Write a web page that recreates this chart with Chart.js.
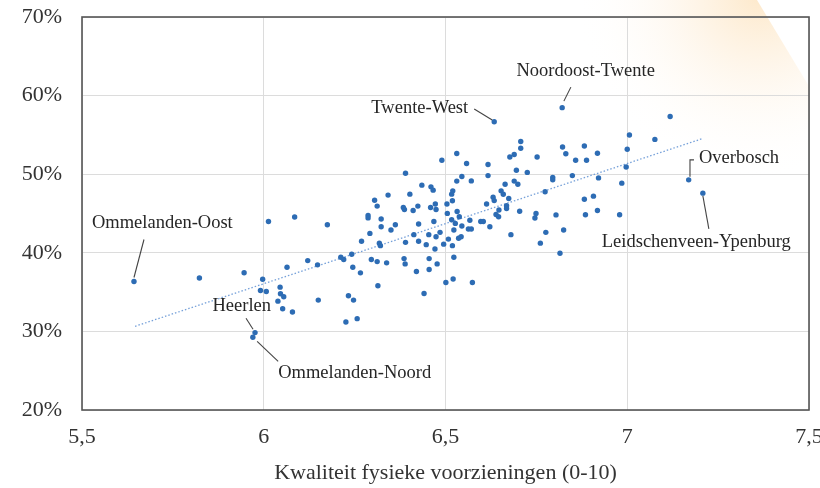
<!DOCTYPE html>
<html><head><meta charset="utf-8">
<script src="https://cdn.jsdelivr.net/npm/chart.js@4/dist/chart.umd.min.js"></script>
<style>html,body{margin:0;padding:0;background:#fff}#wrap{width:820px;height:488px;position:relative}</style>
</head><body><div id="wrap"><canvas id="c" width="820" height="488"></canvas></div>
<script>
// ---- data ----
const xValues = [5.643,5.823,5.946,5.997,6.064,6.121,6.148,6.013,6.085,6.175,5.991,6.007,6.045,6.046,6.055,6.039,6.052,6.079,6.150,5.976,5.970,
6.212,6.220,6.242,6.296,6.312,6.338,6.386,6.389,6.455,6.477,6.523,6.245,6.266,6.420,6.455,6.521,6.314,6.233,6.247,6.441,6.501,6.574,6.226,6.257,
6.269,6.292,6.318,6.321,6.390,6.413,6.426,6.447,6.454,6.471,6.474,6.485,6.495,6.508,6.519,6.536,6.543,6.523,6.517,6.527,6.545,
6.287,6.287,6.323,6.323,6.362,6.350,6.426,6.468,6.384,6.387,6.411,6.424,6.459,6.474,6.472,6.504,6.505,6.519,6.532,6.538,
6.567,6.563,6.571,6.597,6.604,6.622,6.639,6.646,6.647,6.704,6.749,6.746,6.680,6.776,6.761,6.804,6.825,6.815,6.885,
6.305,6.312,6.342,6.402,6.435,6.460,6.466,6.520,6.517,6.390,6.490,6.531,6.531,6.545,6.558,6.571,6.617,6.617,6.613,6.631,6.634,
6.653,6.659,6.664,6.668,6.668,6.674,6.689,6.699,6.695,6.725,6.677,6.689,6.707,6.707,6.752,6.774,6.795,6.795,6.822,6.831,6.849,
6.858,6.882,6.888,6.882,6.907,6.918,6.918,6.921,6.979,6.985,6.997,7.000,7.006,7.076,7.118,6.634,6.821,7.169,7.208];
const yValues = [36.35,36.79,37.46,36.64,38.16,39.01,38.47,43.99,44.55,43.57,35.21,35.08,35.63,34.79,34.41,33.85,32.89,32.46,33.98,29.85,29.25,
39.43,39.14,39.81,39.14,38.88,38.72,39.26,38.59,39.26,38.59,39.43,38.16,37.45,37.62,37.87,36.67,35.80,34.54,33.98,34.83,36.22,36.22,31.19,31.62,
41.46,42.47,41.23,40.91,41.33,42.31,41.46,41.04,42.31,40.49,42.05,42.60,41.10,41.74,40.91,41.86,42.05,42.90,44.21,43.74,43.41,
44.75,44.44,44.30,43.32,43.57,42.90,43.67,43.99,45.77,45.51,45.39,45.94,45.77,45.51,46.20,46.20,45.01,46.62,45.26,44.59,
44.14,43.03,43.03,43.99,43.99,43.32,44.88,44.59,45.45,45.28,45.01,44.42,42.31,42.60,41.23,44.82,42.90,39.94,44.84,
46.68,45.94,47.34,47.46,48.61,48.39,47.97,47.88,47.46,50.13,51.77,52.64,49.12,49.70,51.37,49.15,51.24,49.82,46.21,47.06,46.64,
47.88,47.44,48.73,45.98,45.64,46.91,49.12,48.73,50.51,50.23,52.19,52.51,54.16,53.30,52.19,47.76,49.59,49.28,53.46,52.61,49.82,
51.77,53.59,51.77,46.81,47.21,52.66,45.39,49.53,44.84,48.86,50.92,53.17,54.98,54.43,57.35,56.67,58.47,49.28,47.59];
const labelNames = ['Ommelanden-Oost','Twente-West','Noordoost-Twente','Overbosch','Leidschenveen-Ypenburg','Heerlen','Ommelanden-Noord'];
const labelX = [5.643,6.634,6.821,7.169,7.208,5.976,5.970];
const labelY = [36.35,56.67,58.47,49.28,47.59,29.85,29.25];
const trendX = [5.646,7.209];
const trendY = [30.65,54.56];
const xTicks = [5.5,6,6.5,7,7.5];
const yTicks = [20,30,40,50,60,70];
const xTitle = 'Kwaliteit fysieke voorzieningen (0-10)';

// ---- label placement (pixel offsets from the point) ----
const labelLayout = {
  'Ommelanden-Oost': {tx:-42, ty:-58, align:'left', line:[[10,-42],[0,-4]]},
  'Twente-West': {tx:-26, ty:-13.7, align:'right', line:[[-20,-12.7],[-2,-1.7]]},
  'Noordoost-Twente': {tx:92.7, ty:-36.5, align:'right', line:[[8.7,-20.5],[1.7,-6.5]]},
  'Overbosch': {tx:10.3, ty:-21.3, align:'left', line:[[5.3,-20],[1.3,-20],[1.3,-3]]},
  'Leidschenveen-Ypenburg': {tx:88, ty:48.7, align:'right', line:[[0,2.7],[6,35.7]]},
  'Heerlen': {tx:16, ty:-26.3, align:'right', line:[[-9,-14.3],[-2,-3.3]]},
  'Ommelanden-Noord': {tx:25.3, ty:35.7, align:'left', line:[[4.3,4],[25.3,24]]}
};

const SERIF = '"Liberation Serif", "DejaVu Serif", serif';
const points = xValues.map((x,i)=>({x, y:yValues[i]}));
const trend = trendX.map((x,i)=>({x, y:trendY[i]}));

const bgPlugin = {
  id:'bg',
  beforeDraw(chart){
    const ctx = chart.ctx;
    ctx.save();
    ctx.fillStyle='#fff'; ctx.fillRect(0,0,chart.width,chart.height);
    ctx.beginPath();
    ctx.moveTo(540,0); ctx.lineTo(757,0); ctx.lineTo(810,88); ctx.lineTo(810,200); ctx.lineTo(540,200); ctx.closePath();
    ctx.clip();
    const g = ctx.createRadialGradient(760,-5,0,760,-5,185);
    g.addColorStop(0,'rgba(251,210,150,0.5)');
    g.addColorStop(0.45,'rgba(252,222,180,0.22)');
    g.addColorStop(1,'rgba(255,255,255,0)');
    ctx.fillStyle=g; ctx.fillRect(540,0,280,200);
    ctx.restore();
  }
};

const framePlugin = {
  id:'frame',
  afterDraw(chart){
    const {ctx, chartArea:a, scales} = chart;
    ctx.save();
    ctx.strokeStyle='#555'; ctx.lineWidth=1.6;
    ctx.strokeRect(a.left, a.top, a.right-a.left, a.bottom-a.top);
    // annotations
    ctx.font = '18.5px ' + SERIF;
    ctx.textBaseline='middle';
    labelNames.forEach((name,i)=>{
      const L = labelLayout[name];
      const px = scales.x.getPixelForValue(labelX[i]);
      const py = scales.y.getPixelForValue(labelY[i]);
      ctx.strokeStyle='#444'; ctx.lineWidth=1.1;
      ctx.beginPath();
      L.line.forEach((p,j)=>{ if(j===0) ctx.moveTo(px+p[0],py+p[1]); else ctx.lineTo(px+p[0],py+p[1]); });
      ctx.stroke();
      ctx.fillStyle='#262626';
      ctx.textAlign=L.align;
      ctx.fillText(name, px+L.tx, py+L.ty);
    });
    ctx.restore();
  }
};

new Chart(document.getElementById('c'), {
  type:'scatter',
  data:{datasets:[
    {data:points, backgroundColor:'rgb(45,108,180)', borderColor:'rgb(45,108,180)', pointRadius:2.7, pointBorderWidth:0, order:1},
    {type:'line', data:trend, showLine:true, borderColor:'rgba(110,155,215,0.95)', borderWidth:1.3, borderDash:[1.5,2], pointRadius:0, fill:false, order:2}
  ]},
  options:{
    responsive:false, animation:false, devicePixelRatio:1,
    layout:{padding:{left:0,right:11,top:17,bottom:0}},
    plugins:{legend:{display:false}, tooltip:{enabled:false}},
    scales:{
      x:{type:'linear', min:5.5, max:7.5,
        afterBuildTicks:s=>{s.ticks = xTicks.map(v=>({value:v}));},
        afterFit:s=>{s.height=78; s.paddingLeft=0; s.paddingRight=0;},
        grid:{color:'#dcdcdc', lineWidth:1, drawTicks:false},
        border:{display:false},
        ticks:{padding:14, color:'#333', font:{family:SERIF, size:22}, callback:v=>String(v).replace('.',',')},
        title:{display:true, text:xTitle, color:'#333', font:{family:SERIF, size:22}, padding:{top:0,bottom:2}}
      },
      y:{type:'linear', min:20, max:70,
        afterBuildTicks:s=>{s.ticks = yTicks.map(v=>({value:v}));},
        afterFit:s=>{s.width=82; s.paddingTop=0; s.paddingBottom=0;},
        grid:{color:'#dcdcdc', lineWidth:1, drawTicks:false},
        border:{display:false},
        ticks:{padding:20, color:'#333', font:{family:SERIF, size:22}, callback:v=>v+'%'}
      }
    }
  },
  plugins:[bgPlugin, framePlugin]
});
</script>
</body></html>
